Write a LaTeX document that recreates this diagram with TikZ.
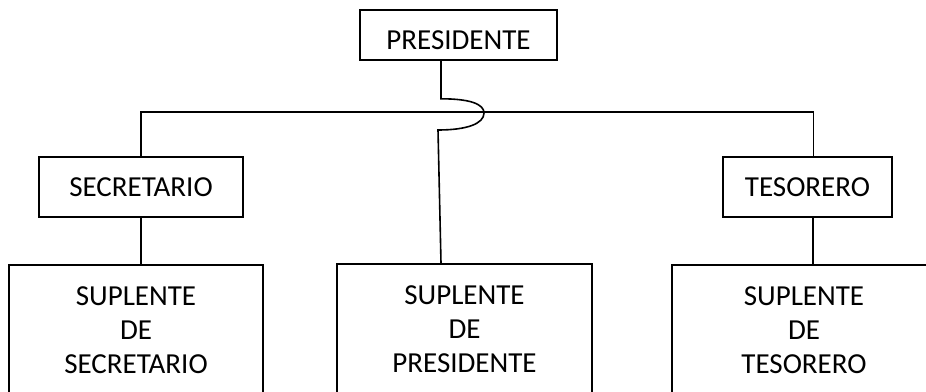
\documentclass[tikz,border=0pt]{standalone}
\usepackage{fontspec}
\setmainfont{Carlito}
\usetikzlibrary{positioning,calc}

\begin{document}
\begin{tikzpicture}[x=1pt,y=-1pt,line width=1.6pt]
  % Styles
  \tikzstyle{cargo}=[draw,rectangle,inner sep=0pt,font=\fontsize{29}{34}\selectfont]
  \tikzstyle{suplente}=[cargo,align=center,minimum height=130pt,anchor=north]

  \useasboundingbox (0,0) rectangle (926,391);

  % Cargos
  \node[cargo,minimum width=197pt,minimum height=50pt,text height=28pt,text depth=0pt] (pres) at (458.5,35) {PRESIDENTE};
  \node[cargo,minimum width=204pt,minimum height=60pt] (sec) at (141,187) {SECRETARIO};
  \node[cargo,minimum width=169pt,minimum height=60pt] (tes) at (807.5,187) {TESORERO};

  % Suplentes
  \node[suplente,minimum width=254pt] (supsec) at (136,264) {SUPLENTE\\DE\\SECRETARIO};
  \node[suplente,minimum width=255pt] (suppres) at (464.5,263) {SUPLENTE\\DE\\PRESIDENTE};
  \node[suplente,minimum width=264pt] (suptes) at (804,264) {SUPLENTE\\DE\\TESORERO};

  % Lineas
  \coordinate (tesx) at ([xshift=6pt]tes.north);
  \draw (sec.north) -- ++(0,-44) -| (tesx);
  \draw (sec.south) -- (sec.south |- supsec.north);
  \draw ([xshift=5.5pt]tes.south) -- ([xshift=5.5pt]tes.south |- suptes.north);

  % el salto sobre la barra
  \coordinate (bajada) at ([xshift=-17.5pt]pres.south);
  \coordinate (llegada) at ([xshift=-23.5pt]suppres.north);
  \draw (bajada) -- ++(0,38) .. controls +(29,0) and (484,104) .. (484,113)
    .. controls (484,124) and (466,130) .. (438,130) -- (llegada);
\end{tikzpicture}
\end{document}
